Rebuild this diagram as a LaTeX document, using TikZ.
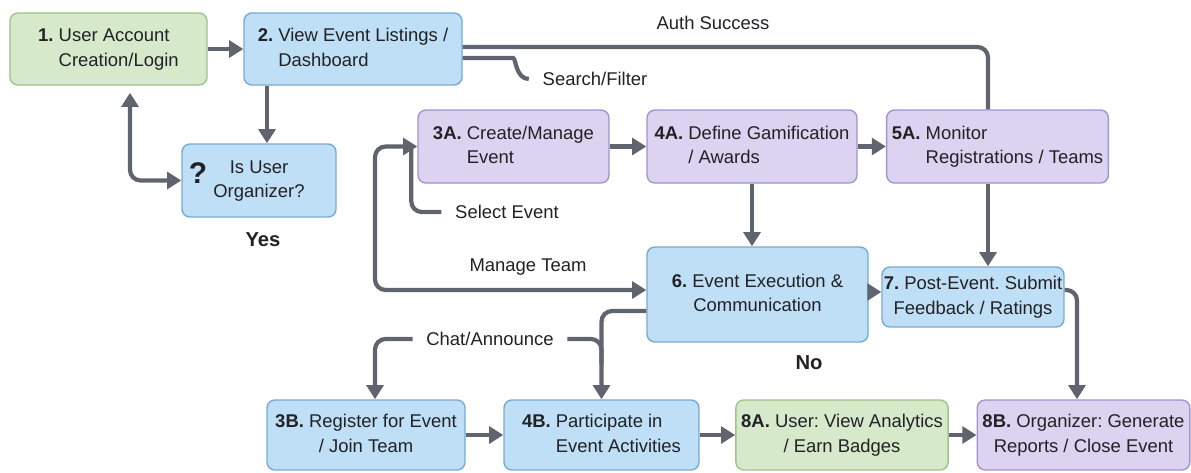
\documentclass[tikz,border=0pt]{standalone}
\usepackage{fontspec}
\setmainfont{Liberation Sans}
\usetikzlibrary{arrows.meta, positioning, calc}

\definecolor{grnfill}{RGB}{214,233,203}
\definecolor{grnline}{RGB}{158,196,138}
\definecolor{bluefill}{RGB}{190,223,245}
\definecolor{blueline}{RGB}{118,170,212}
\definecolor{purpfill}{RGB}{219,211,240}
\definecolor{purpline}{RGB}{163,148,205}
\definecolor{arrowgray}{RGB}{96,100,110}
\definecolor{txtdark}{RGB}{34,34,38}

\frenchspacing
% number in bold, two lines hanging after it
\newcommand{\steptext}[3]{\textbf{#1} \begin{tabular}[t]{@{}l@{}}#2\\#3\end{tabular}}
% number in bold, both lines centred
\newcommand{\steptextc}[3]{\begin{tabular}{@{}c@{}}\textbf{#1} #2\\#3\end{tabular}}

\begin{document}
\begin{tikzpicture}[
		font=\fontsize{10.5}{14}\selectfont,
		>={Triangle[length=8pt,width=9.5pt]},
		% Boxes for the steps
		base box/.style={rectangle, rounded corners=4.5pt, line width=0.8pt, text=txtdark, inner sep=3pt},
		user box/.style={base box, fill=grnfill, draw=grnline},
		flow box/.style={base box, fill=bluefill, draw=blueline},
		org box/.style={base box, fill=purpfill, draw=purpline},
		% Connectors
		branch/.style={draw=arrowgray, line width=2.4pt, rounded corners=6pt},
		flow/.style={branch, ->},
		% Labels
		edge label/.style={text=txtdark, inner sep=2pt},
		answer label/.style={font=\bfseries\fontsize{11.5}{14}\selectfont, text=txtdark}
		]
		\useasboundingbox (0,0) rectangle (23.82,-9.44);
		
		% Top row
		\node[user box, minimum width=3.94cm, minimum height=1.44cm] (S1) at (2.17,-0.98) {\steptext{1.}{User Account}{Creation/Login}};
		\node[flow box, minimum width=4.36cm, minimum height=1.44cm] (S2) at (7.06,-0.98) {\steptext{2.}{View Event Listings /}{Dashboard}};
		\node[flow box, minimum width=3.08cm, minimum height=1.46cm] (Q) at (5.18,-3.61) {\begin{tabular}{@{}c@{}}Is User\\Organizer?\end{tabular}};
		\node[font=\bfseries\fontsize{17}{17}\selectfont, text=txtdark, inner sep=0pt] (qmark) at (3.96,-3.46) {?};
		\node[answer label] (yes) at (5.26,-4.8) {Yes};
		
		% Organizer row
		\node[org box, minimum width=3.82cm, minimum height=1.46cm] (S3A) at (10.27,-2.93) {\steptext{3A.}{Create/Manage}{Event}};
		\node[org box, minimum width=4.2cm, minimum height=1.46cm] (S4A) at (15.04,-2.93) {\steptext{4A.}{Define Gamification}{/ Awards}};
		\node[org box, minimum width=4.14cm, minimum height=1.46cm] (S5A) at (19.95,-2.93) {\steptext{5A.}{Monitor}{Registrations / Teams}};
		
		% Middle
		\node[flow box, minimum width=4.42cm, minimum height=1.9cm] (S6) at (15.15,-5.89) {\steptextc{6.}{Event Execution \&}{Communication}};
		\node[flow box, minimum width=3.44cm, minimum height=1.2cm, inner sep=1pt] (S7) at (19.46,-5.94) {\steptextc{7.}{Post-Event. Submit}{Feedback / Ratings}};
		\node[answer label] (no) at (16.18,-7.26) {No};
		
		% Bottom row
		\node[flow box, minimum width=3.96cm, minimum height=1.4cm] (S3B) at (7.32,-8.7) {\steptextc{3B.}{Register for Event}{/ Join Team}};
		\node[flow box, minimum width=3.9cm, minimum height=1.4cm] (S4B) at (12.03,-8.7) {\steptext{4B.}{Participate in}{Event Activities}};
		\node[user box, minimum width=4.16cm, minimum height=1.4cm] (S8A) at (16.84,-8.7) {\steptextc{8A.}{User: View Analytics}{/ Earn Badges}};
		\node[org box, minimum width=4.18cm, minimum height=1.4cm] (S8B) at (21.67,-8.7) {\steptextc{8B.}{Organizer: Generate}{Reports / Close Event}};
		
		% Connector labels
		\node[edge label] (auth) at (14.26,-0.46) {Auth Success};
		\node[edge label] (search) at (11.9,-1.58) {Search/Filter};
		\node[edge label] (select) at (10.14,-4.24) {Select Event};
		\node[edge label] (manage) at (10.56,-5.34) {Manage Team};
		\node[edge label] (chat) at (9.8,-6.78) {Chat/Announce};
		
		% Helper points
		\coordinate (q in) at ($(Q.north)+(0.16,0)$);
		\coordinate (loop x) at (7.5,0);
		\coordinate (auth x) at ($(S5A.north)+(-0.19,0)$);
		\coordinate (post x) at ($(S8B.north)+(-0.13,0)$);
		\coordinate (team in) at ($(S6.west)+(0,0.09)$);
		\coordinate (chat out) at ($(S6.west)+(0,-0.33)$);
		\coordinate (post in) at ($(S7.west)+(0,0.1)$);
		
		% Connectors
		\draw[flow] (S1) -- (S2);
		\draw[flow] (q in |- S2.south) -- (q in);
		\draw[flow, <->, shorten <=4pt] ([xshift=0.43cm]S1.south) |- (Q.west);
		\draw[branch] ([yshift=0.04cm]S2.east) -| (auth x);
		\draw[branch] ([yshift=-0.18cm]S2.east) -- ++(0.8,0) to[out=0,in=180] ([xshift=-0.2cm]search.west);
		\draw[flow] (S3A) -- (S4A);
		\draw[flow] (S4A) -- (S5A);
		\draw[flow] (S4A) -- (S4A |- S6.north);
		\draw[flow] (auth x |- S5A.south) -- (auth x |- S7.north);
		\draw[branch] ([xshift=-0.12cm]S3A.west) |- ([xshift=-0.2cm]select.west);
		\draw[flow, <->] (S3A.west) -| (loop x |- team in) -- (team in);
		\draw[flow] (chat out) -| (S4B.north);
		\draw[branch] ([xshift=0.2cm]chat.east) -| ($(S4B.north)+(0,0.7)$);
		\draw[flow] ([xshift=-0.2cm]chat.west) -| (loop x |- S3B.north);
		\draw[flow] (post in -| S6.east) -- (post in);
		\draw[flow] ([yshift=0.14cm]S7.east) -| (post x);
		\draw[flow] (S3B) -- (S4B);
		\draw[flow] (S4B) -- (S8A);
		\draw[flow] (S8A) -- (S8B);
	\end{tikzpicture}
\end{document}
